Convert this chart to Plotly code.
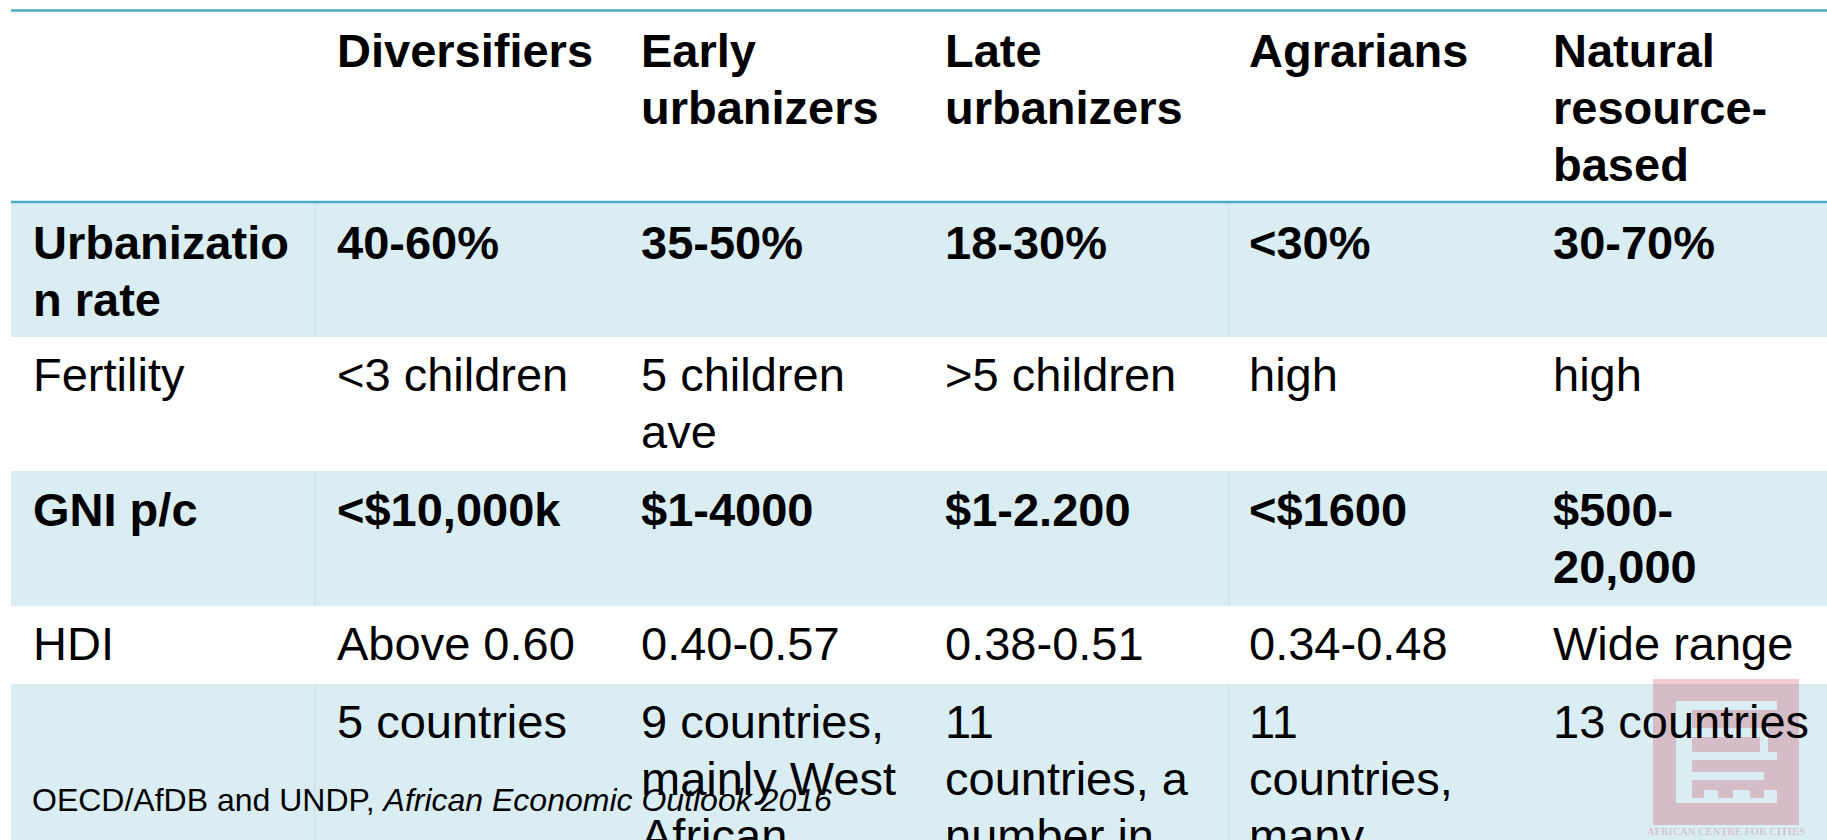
import plotly.graph_objects as go

# ---------------- data (table contents) ----------------
header = ["", "Diversifiers", "Early<br>urbanizers", "Late<br>urbanizers", "Agrarians",
          "Natural<br>resource-<br>based"]
urbanization = ["Urbanizatio<br>n rate", "40-60%", "35-50%", "18-30%", "<30%", "30-70%"]
fertility = ["Fertility", "<3 children", "5 children<br>ave", ">5 children", "high", "high"]
gni = ["GNI p/c", "<$10,000k", "$1-4000", "$1-2.200", "<$1600", "$500-<br>20,000"]
hdi = ["HDI", "Above 0.60", "0.40-0.57", "0.38-0.51", "0.34-0.48", "Wide range"]
countries = ["", "5 countries", "9 countries,<br>mainly West<br>African",
             "11<br>countries, a<br>number in", "11<br>countries,<br>many", "13 countries"]
source_plain = "OECD/AfDB and UNDP, "
source_italic = "African Economic Outlook 2016"
logo_title = "AFRICAN CENTRE FOR CITIES"
logo_sub = "urbanism from an african perspective"

rows = [header, urbanization, fertility, gni, hdi, countries]
row_bold = [True, True, False, True, False, False]
row_banded = [False, True, False, True, False, True]

# ---------------- geometry / style ----------------
W, H = 1827, 840
FONT = "Arial, Liberation Sans, sans-serif"
FS = 47
LINE = 57
BLUE = "#DAEDF3"
ACCENT = "#4BACC6"
DIVIDER = "#C2E0EA"
table_left = 11
col_w = 304
pad = 20
row_tops = [10, 202, 337, 471, 606, 684, H + 40]
first_base = [57, 57, 54, 55, 54, 54]

fig = go.Figure()
shapes = []
annotations = []

# row fills
for i, banded in enumerate(row_banded):
    if banded:
        shapes.append(dict(type="rect", xref="x", yref="y", x0=table_left, x1=W + 10,
                           y0=row_tops[i], y1=row_tops[i + 1], fillcolor=BLUE,
                           line=dict(width=0), layer="below"))
        for dx in (table_left + col_w, table_left + 4 * col_w + 2):
            shapes.append(dict(type="line", xref="x", yref="y", x0=dx, x1=dx,
                               y0=row_tops[i], y1=row_tops[i + 1],
                               line=dict(color=DIVIDER, width=1), layer="below"))

# accent lines
for yl in (row_tops[0] + 0.5, row_tops[1]):
    shapes.append(dict(type="line", xref="x", yref="y", x0=table_left, x1=W + 10,
                       y0=yl, y1=yl, line=dict(color=ACCENT, width=2.6), layer="below"))

# logo (semi-transparent mark)
lx0, lx1, ly0, ly1 = 1653, 1799, 679, 825
shapes.append(dict(type="rect", xref="x", yref="y", x0=lx0, x1=lx1, y0=ly0, y1=ly1,
                   fillcolor="rgba(188,0,26,0.2)", line=dict(width=0), layer="above"))
holes = [
    (1676, 1777, 701, 710),
    (1676, 1692, 701, 780),
    (1692, 1768, 728, 737),
    (1760, 1768, 737, 752),
    (1692, 1777, 752, 760),
    (1676, 1764, 772, 780),
    (1676, 1692, 780, 803),
    (1704, 1718, 790, 803),
    (1733, 1750, 790, 803),
    (1764, 1777, 790, 803),
    (1676, 1777, 798, 803),
]
for hx0, hx1, hy0, hy1 in holes:
    shapes.append(dict(type="rect", xref="x", yref="y", x0=hx0, x1=hx1, y0=hy0, y1=hy1,
                       fillcolor=BLUE, line=dict(width=0), layer="above"))

# table text, one annotation per line
for r, row in enumerate(rows):
    for c, cell in enumerate(row):
        if not cell:
            continue
        for k, line in enumerate(cell.split("<br>")):
            base = row_tops[r] + first_base[r] + k * LINE
            annotations.append(dict(
                x=table_left + c * col_w + pad, y=base - 0.35 * FS,
                xref="x", yref="y", text=line, showarrow=False,
                xanchor="left", yanchor="middle",
                font=dict(family=FONT, size=FS, color="black",
                          weight=700 if row_bold[r] else 400)))

# source note
annotations.append(dict(x=30, y=811 - 0.35 * 32, xref="x", yref="y",
                        text=source_plain + "<i>" + source_italic + "</i>",
                        showarrow=False, xanchor="left", yanchor="middle",
                        font=dict(family=FONT, size=32, color="black")))

# logo captions
annotations.append(dict(x=(lx0 + lx1) / 2, y=831, xref="x", yref="y", text="<b>" + logo_title + "</b>",
                        showarrow=False, xanchor="center", yanchor="middle",
                        font=dict(family="Liberation Serif, serif", size=10.5,
                                  color="rgba(188,0,26,0.2)")))
annotations.append(dict(x=(lx0 + lx1) / 2, y=841, xref="x", yref="y", text=logo_sub,
                        showarrow=False, xanchor="center", yanchor="middle",
                        font=dict(family="Liberation Sans, sans-serif", size=9,
                                  color="rgba(188,0,26,0.15)")))

fig.update_layout(
    width=W, height=H,
    margin=dict(l=0, r=0, t=0, b=0),
    paper_bgcolor="white", plot_bgcolor="white",
    xaxis=dict(range=[0, W], visible=False, fixedrange=True),
    yaxis=dict(range=[H, 0], visible=False, fixedrange=True),
    shapes=shapes, annotations=annotations, showlegend=False,
)

fig.write_html("out.html", config={"displayModeBar": False, "staticPlot": True},
               post_script="document.body.style.margin='0';document.body.style.overflow='hidden';")
